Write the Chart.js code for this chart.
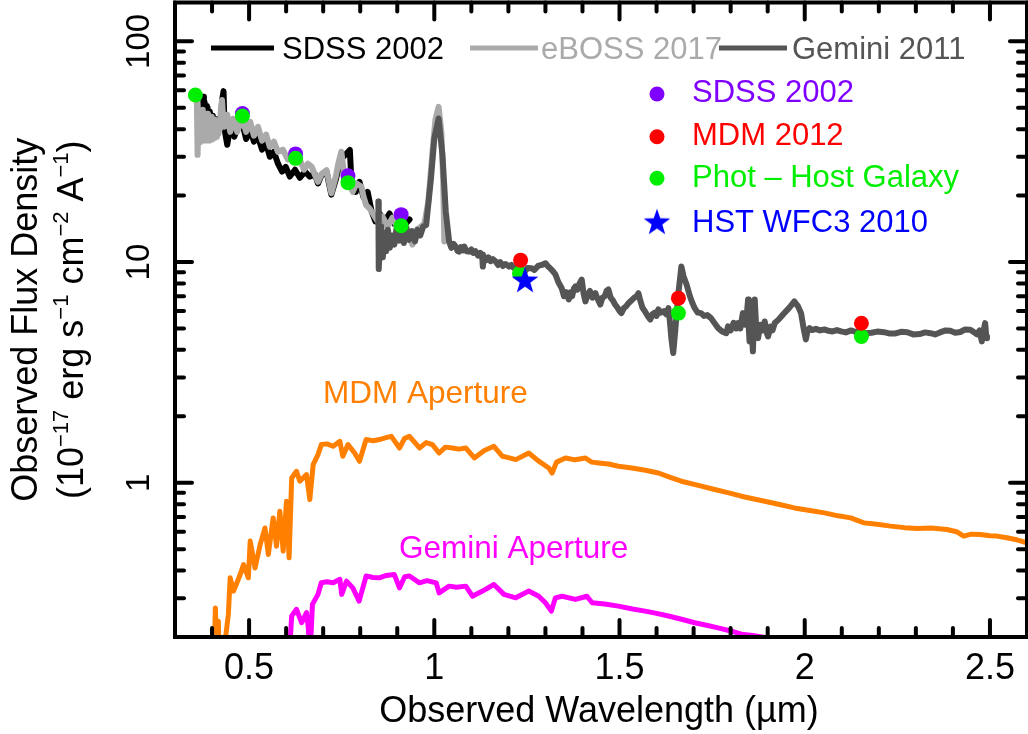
<!DOCTYPE html>
<html>
<head>
<meta charset="utf-8">
<script src="https://cdn.jsdelivr.net/npm/chart.js@4/dist/chart.umd.min.js"></script>
<style>
  html, body { margin: 0; padding: 0; background: #ffffff; }
  canvas { display: block; }
</style>
</head>
<body>
<canvas id="sed" width="1028" height="734"></canvas>
<script>
// ---- Spectra as [observed wavelength (micron), flux density (1e-17 erg/s/cm^2/A)] ----
const sdssSpectrum = [
  [0.376,56.1],[0.378,46],[0.380,53],[0.382,44],[0.384,51],[0.386,43],[0.388,50],[0.390,42.5],[0.392,48],[0.394,42],
  [0.396,47],[0.398,41.5],[0.400,46],[0.402,41],[0.404,45],[0.406,40.5],[0.408,44.5],[0.410,40],[0.412,44],[0.414,40],
  [0.417,43],[0.420,41],[0.424,45],[0.428,55],[0.431,59.5],[0.433,45],[0.435,38.9],[0.441,34.0],[0.449,41.0],[0.460,37.0],
  [0.470,41.0],[0.481,43.2],[0.492,36.1],[0.503,39.8],[0.513,35.1],[0.524,37.0],[0.535,32.3],[0.546,34.4],[0.556,30.0],
  [0.567,31.6],[0.578,27.9],[0.589,25.7],[0.599,27.0],[0.610,24.4],[0.624,26.2],[0.637,24.1],[0.651,25.7],[0.664,24.4],
  [0.677,25.1],[0.686,22.7],[0.696,24.9],[0.709,25.7],[0.722,20.2],[0.734,23.6],[0.747,29.1],[0.772,32.2],[0.777,22.0],
  [0.788,20.8],[0.798,23.1],[0.809,19.6],[0.820,20.8],[0.831,16.9],[0.841,15.3],[0.852,16.6],[0.866,15.3],[0.879,16.6],
  [0.892,14.9],[0.906,16.2],[0.919,14.7],[0.933,15.6]
];

const ebossSpectrum = [
  [0.359,54.2],[0.361,30.6],[0.363,45],[0.365,36],[0.367,48],[0.369,35],[0.371,46],[0.373,36.5],[0.375,49],[0.377,35.5],
  [0.379,47],[0.381,36],[0.383,46],[0.385,35.5],[0.387,47],[0.389,36],[0.391,45.5],[0.393,35.5],[0.395,44.5],[0.397,36.5],
  [0.399,45.5],[0.401,36],[0.403,44],[0.405,37],[0.407,44.2],[0.409,36.6],[0.411,43.5],[0.413,37],[0.415,43.2],[0.417,38],
  [0.419,43],[0.421,40],[0.424,50],[0.427,54.2],[0.430,45],[0.433,41.0],[0.441,46.5],[0.449,38.9],[0.457,44.6],[0.468,38.9],
  [0.481,45.0],[0.492,38.9],[0.503,43.2],[0.513,37.4],[0.524,41.0],[0.535,35.5],[0.546,37.8],[0.556,33.3],[0.567,35.1],
  [0.578,31.6],[0.591,32.3],[0.605,29.1],[0.616,31.0],[0.626,28.5],[0.637,29.1],[0.648,26.2],[0.659,27.9],[0.669,27.0],
  [0.678,24.8],[0.686,23.1],[0.696,25.1],[0.709,26.1],[0.716,23.0],[0.722,20.5],[0.734,24.4],[0.742,28.5],[0.749,31.6],
  [0.758,23.9],[0.769,23.1],[0.780,20.8],[0.790,22.7],[0.803,22.0],[0.809,19.8],[0.816,18.1],[0.825,17.5],[0.836,16.4],
  [0.847,15.3],[0.860,16.1],[0.874,14.5],[0.887,15.9],[0.901,14.3],[0.914,15.6],[0.927,13.7],[0.941,12.0],[0.952,14.0],
  [0.960,14.3],[0.973,14.9],[0.984,18.8],[0.995,31.6],[1.003,44.1],[1.0116,50.5],[1.019,38.9],[1.024,23.1],[1.027,12.4]
];

const geminiSpectrum = [
  [0.849,18.8],[0.850,9.3],[0.853,12.0],[0.857,14.5],[0.861,10.5],[0.865,13.6],[0.870,11.2],[0.875,14.0],[0.880,11.6],
  [0.886,13.2],[0.892,12.0],[0.898,14.2],[0.905,12.5],[0.912,13.9],[0.918,12.2],[0.925,14.3],[0.932,12.6],[0.940,13.8],
  [0.948,12.4],[0.955,14.0],[0.962,13.2],[0.970,14.5],[0.978,14.7],[0.991,23.9],[1.000,36.3],[1.0116,44.7],[1.022,30.6],
  [1.031,16.9],[1.040,12.4],[1.046,11.6],[1.052,12.1],[1.058,11.75],[1.063,11.2],[1.067,11.15],[1.072,11.7],[1.077,11.3],
  [1.081,11.75],[1.087,11.2],[1.094,11.15],[1.100,11.4],[1.105,11.0],[1.111,11.2],[1.118,10.7],[1.124,11.0],[1.129,10.81],
  [1.131,9.54],[1.134,10.6],[1.140,10.2],[1.146,10.5],[1.152,10.1],[1.158,10.3],[1.166,10.05],[1.172,9.7],[1.178,10.0],
  [1.185,9.6],[1.192,9.8],[1.202,9.54],[1.208,9.7],[1.215,9.4],[1.222,9.5],[1.228,9.25],[1.236,9.3],[1.245,9.1],[1.252,9.4],
  [1.263,9.37],[1.270,9.2],[1.280,9.6],[1.290,9.7],[1.300,9.88],[1.306,9.6],[1.312,9.4],[1.320,9.1],[1.327,8.78],[1.335,8.1],
  [1.344,7.61],[1.350,7.0],[1.356,7.3],[1.363,6.77],[1.368,7.3],[1.372,7.0],[1.377,7.6],[1.381,7.75],[1.386,7.5],[1.392,8.0],
  [1.398,8.33],[1.403,7.2],[1.408,6.63],[1.414,7.1],[1.420,7.4],[1.427,6.9],[1.435,7.22],[1.441,6.8],[1.448,6.42],[1.454,6.9],
  [1.460,7.0],[1.465,7.4],[1.470,7.51],[1.476,6.9],[1.482,6.7],[1.488,6.42],[1.495,6.2],[1.500,6.0],[1.505,5.87],[1.512,6.2],
  [1.518,6.3],[1.524,6.51],[1.532,6.7],[1.540,6.9],[1.546,7.0],[1.551,7.22],[1.556,6.7],[1.562,6.2],[1.569,5.97],[1.576,5.7],
  [1.583,5.49],[1.589,5.8],[1.595,5.9],[1.600,5.7],[1.605,6.10],[1.612,5.9],[1.620,6.0],[1.626,5.8],[1.632,6.18],[1.636,5.38],
  [1.640,4.5],[1.645,3.87],[1.650,4.8],[1.654,5.79],[1.660,7.5],[1.667,9.54],[1.673,8.6],[1.681,7.91],[1.690,7.0],[1.697,6.5],
  [1.703,6.18],[1.711,5.9],[1.720,5.87],[1.728,5.7],[1.737,5.75],[1.747,5.57],[1.756,5.3],[1.766,5.02],[1.777,4.85],[1.788,4.76],
  [1.793,5.11],[1.800,4.9],[1.808,5.3],[1.815,5.0],[1.820,5.29],[1.826,5.0],[1.833,5.87],[1.838,5.2],[1.843,5.6],[1.847,6.77],
  [1.849,5.0],[1.851,4.37],[1.856,5.2],[1.860,3.94],[1.863,5.5],[1.865,6.77],[1.869,5.0],[1.874,4.52],[1.880,5.2],[1.886,4.9],
  [1.892,5.38],[1.897,4.8],[1.901,4.60],[1.908,5.1],[1.913,4.9],[1.919,5.29],[1.930,5.5],[1.945,5.87],[1.958,6.2],[1.972,6.63],
  [1.982,6.3],[1.990,5.87],[1.997,5.0],[2.003,4.46],[2.008,4.9],[2.013,5.02],[2.020,4.92],[2.030,4.98],[2.041,4.9],[2.053,4.95],
  [2.064,4.88],[2.075,4.85],[2.087,4.92],[2.098,4.85],[2.111,4.8],[2.125,4.9],[2.138,4.82],[2.151,4.85],[2.165,4.76],[2.180,4.78],
  [2.196,4.84],[2.214,4.81],[2.230,4.74],[2.245,4.75],[2.260,4.83],[2.277,4.81],[2.293,4.7],[2.310,4.72],[2.325,4.8],[2.339,4.76],
  [2.352,4.7],[2.365,4.8],[2.380,4.9],[2.393,4.88],[2.406,4.78],[2.420,4.82],[2.433,4.95],[2.447,4.94],[2.458,4.8],[2.465,4.7],
  [2.472,4.9],[2.478,4.37],[2.483,4.9],[2.487,5.29],[2.490,4.6],[2.492,4.52]
];

// ---- Host galaxy model seen through the two apertures ----
const mdmAperture = [
  [0.405,0.15],[0.409,0.271],[0.412,0.18],[0.417,0.236],[0.420,0.15],[0.428,0.15],[0.435,0.19],[0.444,0.253],[0.449,0.371],
  [0.458,0.323],[0.476,0.384],[0.485,0.426],[0.498,0.371],[0.503,0.544],[0.516,0.411],[0.530,0.525],[0.543,0.624],[0.552,0.473],
  [0.565,0.693],[0.574,0.516],[0.583,0.743],[0.592,0.490],[0.601,0.825],[0.608,0.457],[0.615,1.05],[0.628,1.127],[0.637,1.016],
  [0.655,1.089],[0.664,0.839],[0.673,1.209],[0.686,1.341],[0.695,1.489],[0.710,1.50],[0.727,1.463],[0.745,1.541],[0.753,1.318],
  [0.767,1.489],[0.785,1.364],[0.798,1.251],[0.816,1.569],[0.835,1.55],[0.852,1.569],[0.870,1.60],[0.884,1.623],[0.906,1.437],
  [0.920,1.59],[0.933,1.623],[0.960,1.437],[0.978,1.52],[0.995,1.489],[1.013,1.364],[1.030,1.45],[1.049,1.437],[1.066,1.42],
  [1.085,1.437],[1.108,1.295],[1.135,1.40],[1.161,1.463],[1.184,1.318],[1.200,1.30],[1.220,1.273],[1.255,1.364],[1.280,1.26],
  [1.309,1.167],[1.318,1.107],[1.330,1.24],[1.354,1.295],[1.380,1.27],[1.408,1.295],[1.425,1.24],[1.444,1.229],[1.470,1.216],
  [1.497,1.188],[1.533,1.167],[1.570,1.14],[1.605,1.107],[1.635,1.06],[1.667,1.016],[1.710,0.975],[1.757,0.932],[1.795,0.90],
  [1.829,0.869],[1.860,0.846],[1.892,0.825],[1.935,0.795],[1.972,0.769],[2.010,0.750],[2.053,0.730],[2.090,0.708],[2.124,0.693],
  [2.160,0.658],[2.195,0.648],[2.232,0.636],[2.270,0.626],[2.304,0.620],[2.340,0.624],[2.384,0.614],[2.410,0.600],[2.429,0.573],
  [2.450,0.585],[2.474,0.583],[2.500,0.575],[2.519,0.573],[2.546,0.563],[2.575,0.550],[2.600,0.534]
];

const geminiAperture = [
  [0.607,0.15],[0.615,0.249],[0.628,0.267],[0.642,0.232],[0.655,0.258],[0.660,0.22],[0.664,0.15],[0.668,0.22],[0.671,0.281],
  [0.686,0.312],[0.695,0.352],[0.710,0.356],[0.727,0.352],[0.745,0.365],[0.750,0.312],[0.763,0.358],[0.780,0.334],[0.797,0.291],
  [0.816,0.378],[0.835,0.372],[0.852,0.371],[0.870,0.380],[0.892,0.384],[0.906,0.334],[0.920,0.375],[0.933,0.378],[0.960,0.352],
  [0.980,0.360],[1.005,0.352],[1.013,0.317],[1.040,0.340],[1.060,0.336],[1.085,0.340],[1.103,0.306],[1.130,0.323],[1.161,0.346],
  [1.188,0.312],[1.220,0.301],[1.255,0.323],[1.282,0.306],[1.300,0.286],[1.316,0.262],[1.327,0.301],[1.345,0.306],[1.381,0.296],
  [1.412,0.306],[1.426,0.286],[1.460,0.282],[1.497,0.276],[1.535,0.268],[1.569,0.262],[1.600,0.256],[1.632,0.249],[1.670,0.240],
  [1.703,0.232],[1.735,0.226],[1.766,0.220],[1.800,0.213],[1.829,0.206],[1.860,0.203],[1.892,0.199]
];

// ---- Photometry ----
const sdssPhot = [[0.482,47.1],[0.6255,30.9],[0.767,24.6],[0.9105,16.4]];
const mdmPhot = [[1.233,10.2],[1.659,6.86],[2.153,5.28]];
const hostPhot = [[0.355,57.1],[0.482,45.9],[0.6255,29.5],[0.767,22.9],[0.9105,14.6],[1.230,8.9],[1.659,5.87],[2.153,4.6]];
const hstPhot = [[1.245,8.3]];

// ---- Axis ticks ----
const xMajorTicks = [0.5, 1, 1.5, 2, 2.5];
const xTickLabels = ['0.5', '1', '1.5', '2', '2.5'];
const yMajorTicks = [1, 10, 100];
const yTickLabels = ['1', '10', '100'];

const FONT = '"Liberation Sans", Arial, Helvetica, sans-serif';

function toPoints(rows) { return rows.map(([w, f]) => ({ x: w, y: f })); }

// filled five-point star used as a marker
function makeStar(size, color) {
  const c = document.createElement('canvas');
  c.width = size; c.height = size;
  const g = c.getContext('2d');
  const R = size / 2, r = R * 0.40, cx = size / 2, cy = size / 2 + R * 0.08;
  g.beginPath();
  for (let i = 0; i < 10; i++) {
    const ang = -Math.PI / 2 + i * Math.PI / 5;
    const rad = i % 2 === 0 ? R : r;
    const px = cx + rad * Math.cos(ang), py = cy + rad * Math.sin(ang);
    if (i === 0) g.moveTo(px, py); else g.lineTo(px, py);
  }
  g.closePath();
  g.fillStyle = color;
  g.fill();
  return c;
}
const starMarker = makeStar(28, '#0000ff');

function lineSet(label, rows, color, width, order) {
  return {
    label, data: toPoints(rows), showLine: true, borderColor: color, backgroundColor: color,
    borderWidth: width, pointRadius: 0, tension: 0, order, clip: 0,
    borderJoinStyle: 'round', borderCapStyle: 'round'
  };
}
function pointSet(label, rows, color, order, style) {
  return {
    label, data: toPoints(rows), showLine: false, backgroundColor: color, borderColor: color,
    borderWidth: 0, pointRadius: style ? 13 : 7.5, pointStyle: style || 'circle', order
  };
}

// lower "order" is painted on top
const datasets = [
  pointSet('HST WFC3 2010', hstPhot, '#0000ff', 0, starMarker),
  pointSet('MDM 2012', mdmPhot, '#ff0000', 1),
  pointSet('Phot \u2013 Host Galaxy', hostPhot, '#00ee00', 2),
  pointSet('SDSS 2002', sdssPhot, '#8000ff', 3),
  lineSet('Gemini 2011', geminiSpectrum, '#555555', 6, 4),
  lineSet('eBOSS 2017', ebossSpectrum, '#aaaaaa', 6, 5),
  lineSet('SDSS 2002', sdssSpectrum, '#000000', 6, 6),
  lineSet('MDM Aperture', mdmAperture, '#ff8000', 5, 7),
  lineSet('Gemini Aperture', geminiAperture, '#ff00ff', 5, 8)
];

function superText(ctx, parts, size) {
  const sup = Math.round(size * 0.62);
  let w = 0;
  parts.forEach(([t, s]) => {
    ctx.font = (s ? sup : size) + 'px ' + FONT;
    w += ctx.measureText(t).width;
  });
  return { w, draw(x0, y0) {
    let x = x0;
    parts.forEach(([t, s]) => {
      ctx.font = (s ? sup : size) + 'px ' + FONT;
      ctx.fillText(t, x, s ? y0 - size * 0.42 : y0);
      x += ctx.measureText(t).width;
    });
  }};
}

const framePlugin = {
  id: 'sedFrame',
  afterDraw(chart) {
    const { ctx, chartArea: a, scales: { x, y } } = chart;
    ctx.save();
    ctx.fillStyle = '#000';
    ctx.strokeStyle = '#000';

    // tick marks, pointing inward on all four sides
    ctx.lineWidth = 4;
    ctx.lineCap = 'round';
    const seg = (x1, y1, x2, y2) => { ctx.beginPath(); ctx.moveTo(x1, y1); ctx.lineTo(x2, y2); ctx.stroke(); };
    for (let k = 3; k <= 26; k++) {
      const v = k / 10;
      const major = xMajorTicks.some(m => Math.abs(m - v) < 1e-6);
      const len = major ? 17 : 9;
      const px = x.getPixelForValue(v);
      seg(px, a.bottom, px, a.bottom - len);
      seg(px, a.top, px, a.top + len);
    }
    [0.1, 1, 10, 100].forEach(dec => {
      for (let m = 1; m <= 9; m++) {
        const v = m * dec;
        if (v < 0.2 - 1e-9 || v > 150) continue;
        const len = m === 1 ? 17 : 9;
        const py = y.getPixelForValue(v);
        seg(a.left, py, a.left + len, py);
        seg(a.right, py, a.right - len, py);
      }
    });

    // frame
    ctx.lineCap = 'butt';
    ctx.lineWidth = 4;
    ctx.strokeRect(a.left, a.top, a.right - a.left, a.bottom - a.top);

    // tick labels
    ctx.font = '36px ' + FONT;
    ctx.textAlign = 'center';
    ctx.textBaseline = 'alphabetic';
    xMajorTicks.forEach((v, i) => ctx.fillText(xTickLabels[i], x.getPixelForValue(v), 679));
    ctx.font = '33px ' + FONT;
    yMajorTicks.forEach((v, i) => {
      ctx.save();
      ctx.translate(149, y.getPixelForValue(v));
      ctx.rotate(-Math.PI / 2);
      ctx.fillText(yTickLabels[i], 0, 0);
      ctx.restore();
    });

    // axis titles
    const cxArea = (a.left + a.right) / 2, cyArea = (a.top + a.bottom) / 2;
    ctx.font = '36px ' + FONT;
    ctx.fillText('Observed Wavelength (\u00b5m)', cxArea - 2, 722);
    ctx.save();
    ctx.translate(37, cyArea);
    ctx.rotate(-Math.PI / 2);
    ctx.fillText('Observed Flux Density', 0, 0);
    ctx.restore();
    ctx.save();
    ctx.translate(83, cyArea);
    ctx.rotate(-Math.PI / 2);
    ctx.textAlign = 'left';
    const unit = superText(ctx, [['(10', false], ['\u221217', true], [' erg s', false], ['\u22121', true],
      [' cm', false], ['\u22122', true], [' A', false], ['\u22121', true], [')', false]], 36);
    unit.draw(-unit.w / 2, 0);
    ctx.restore();

    // spectrum legend (top row)
    ctx.textAlign = 'left';
    ctx.font = '31px ' + FONT;
    const spec = [[6, 211, 274, 282], [5, 470, 538, 541], [4, 719, 787, 792]];
    spec.forEach(([di, x1, x2, tx]) => {
      const ds = chart.data.datasets[di];
      ctx.strokeStyle = ds.borderColor;
      ctx.lineWidth = 5;
      seg(x1, 48, x2, 48);
      ctx.fillStyle = ds.borderColor;
      ctx.fillText(ds.label, tx, 59);
    });

    // photometry legend
    const phot = [[3, 94, 101.7], [1, 136.7, 145], [2, 178.3, 187.3], [0, 221.7, 231.7]];
    phot.forEach(([di, my, ty]) => {
      const ds = chart.data.datasets[di];
      if (ds.pointStyle === 'circle') {
        ctx.fillStyle = ds.backgroundColor;
        ctx.beginPath();
        ctx.arc(657, my, 7.5, 0, Math.PI * 2);
        ctx.fill();
      } else {
        ctx.drawImage(ds.pointStyle, 657 - ds.pointStyle.width / 2, my - ds.pointStyle.height / 2);
      }
      ctx.fillStyle = ds.backgroundColor;
      ctx.fillText(ds.label, 692, ty);
    });

    // aperture curve labels
    ctx.font = '31.5px ' + FONT;
    ctx.fillStyle = chart.data.datasets[7].borderColor;
    ctx.fillText(chart.data.datasets[7].label, 323, 403);
    ctx.fillStyle = chart.data.datasets[8].borderColor;
    ctx.fillText(chart.data.datasets[8].label, 399, 558);

    ctx.restore();
  }
};

new Chart(document.getElementById('sed'), {
  type: 'scatter',
  data: { datasets },
  options: {
    responsive: false,
    animation: false,
    devicePixelRatio: 1,
    events: [],
    layout: { autoPadding: false, padding: { left: 175, right: 1, top: 2.5, bottom: 97 } },
    plugins: { legend: { display: false }, tooltip: { enabled: false } },
    scales: {
      x: { type: 'linear', min: 0.3, max: 2.6, display: false },
      y: { type: 'logarithmic', min: 0.2, max: 150, display: false }
    }
  },
  plugins: [framePlugin]
});
</script>
</body>
</html>
